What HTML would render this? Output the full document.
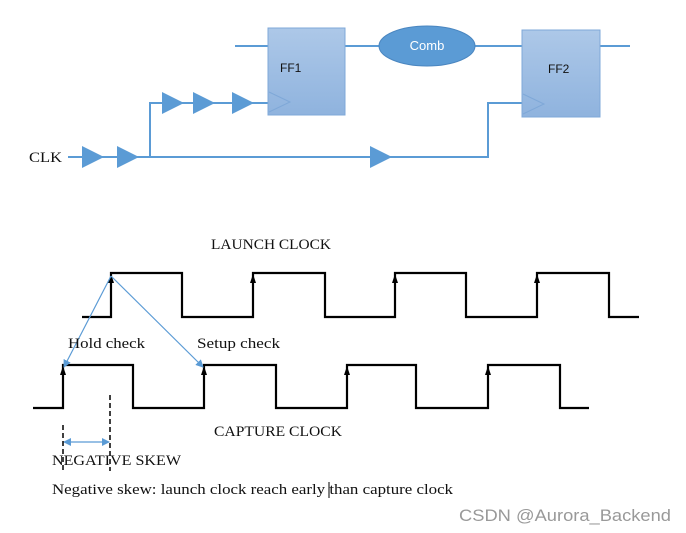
<!DOCTYPE html>
<html><head><meta charset="utf-8"><style>
body{margin:0;background:#fff;width:686px;height:533px;overflow:hidden}
svg{display:block}
.s{font-family:"Liberation Serif",serif;font-size:15px;fill:#111}
</style></head><body>
<svg width="686" height="533" viewBox="0 0 686 533">
<defs>
<linearGradient id="g" x1="0" y1="0" x2="0" y2="1"><stop offset="0" stop-color="#adc8e8"/><stop offset="1" stop-color="#8fb3de"/></linearGradient>
<marker id="ab" markerWidth="8" markerHeight="8" refX="7" refY="4" orient="auto-start-reverse" markerUnits="userSpaceOnUse"><path d="M0,0 L8,4 L0,8 z" fill="#5b9bd5"/></marker>
</defs>
<g stroke="#5b9bd5" stroke-width="2" fill="none">
<path d="M235 46H268M345 46H380M475 46H522M600 46H630"/>
<path d="M68 157H488V103H522"/>
<path d="M150 157V103H268"/>
</g>
<rect x="268" y="28" width="77" height="87" fill="url(#g)" stroke="#7fa8d8"/>
<rect x="522" y="30" width="78" height="87" fill="url(#g)" stroke="#7fa8d8"/>
<path d="M269 92L290 102L269 112" fill="none" stroke="#7fa8d8"/>
<path d="M523 94L544 104L523 114" fill="none" stroke="#7fa8d8"/>
<ellipse cx="427" cy="46" rx="48" ry="20" fill="#5b9bd5" stroke="#4a86c0"/>
<text x="427" y="50" text-anchor="middle" font-family="Liberation Sans,sans-serif" font-size="13" fill="#fff">Comb</text>
<text x="280" y="72" font-family="Liberation Sans,sans-serif" font-size="12" fill="#111">FF1</text>
<text x="548" y="73" font-family="Liberation Sans,sans-serif" font-size="12" fill="#111">FF2</text>
<g fill="#5b9bd5">
<path d="M82 146L104 157L82 168z"/><path d="M117 146L139 157L117 168z"/>
<path d="M370 146L392 157L370 168z"/>
<path d="M162 92L184 103L162 114z"/><path d="M193 92L215 103L193 114z"/><path d="M232 92L254 103L232 114z"/>
</g>
<text x="29" y="162" class="s" textLength="33" lengthAdjust="spacingAndGlyphs">CLK</text>
<g stroke="#000" stroke-width="2.2" fill="none">
<path d="M82 317H111V273H182V317H253V273H325V317H395V273H466V317H537V273H609V317H639"/>
<path d="M33 408H63V365H133V408H204V365H276V408H347V365H416V408H488V365H560V408H589"/>
</g>
<g fill="#000">
<path d="M108 283L111 274L114 283z"/><path d="M250 283L253 274L256 283z"/><path d="M392 283L395 274L398 283z"/><path d="M534 283L537 274L540 283z"/>
<path d="M60 375L63 366L66 375z"/><path d="M201 375L204 366L207 375z"/><path d="M344 375L347 366L350 375z"/><path d="M485 375L488 366L491 375z"/>
</g>
<g stroke="#5b9bd5" stroke-width="1.2" fill="none">
<path d="M111 276L64 367" marker-end="url(#ab)"/>
<path d="M111 276L203 367" marker-end="url(#ab)"/>
<path d="M64 442H109" marker-end="url(#ab)" marker-start="url(#ab)"/>
</g>
<g stroke="#000" stroke-width="1.5" stroke-dasharray="5,3">
<path d="M63 425V471M110 395V471"/>
</g>
<text x="211" y="249" class="s" textLength="120" lengthAdjust="spacingAndGlyphs">LAUNCH CLOCK</text>
<text x="68" y="348" class="s" textLength="77" lengthAdjust="spacingAndGlyphs">Hold check</text>
<text x="197" y="348" class="s" textLength="83" lengthAdjust="spacingAndGlyphs">Setup check</text>
<text x="214" y="436" class="s" textLength="128" lengthAdjust="spacingAndGlyphs">CAPTURE CLOCK</text>
<text x="52" y="465" class="s" textLength="129" lengthAdjust="spacingAndGlyphs">NEGATIVE SKEW</text>
<text x="52" y="494" class="s" textLength="401" lengthAdjust="spacingAndGlyphs">Negative skew: launch clock reach early than capture clock</text>
<path d="M329 482V498" stroke="#000" stroke-width="1"/>
<text x="459" y="521" font-family="Liberation Sans,sans-serif" font-size="17" fill="#999" textLength="212" lengthAdjust="spacingAndGlyphs">CSDN @Aurora_Backend</text>
</svg>
</body></html>
